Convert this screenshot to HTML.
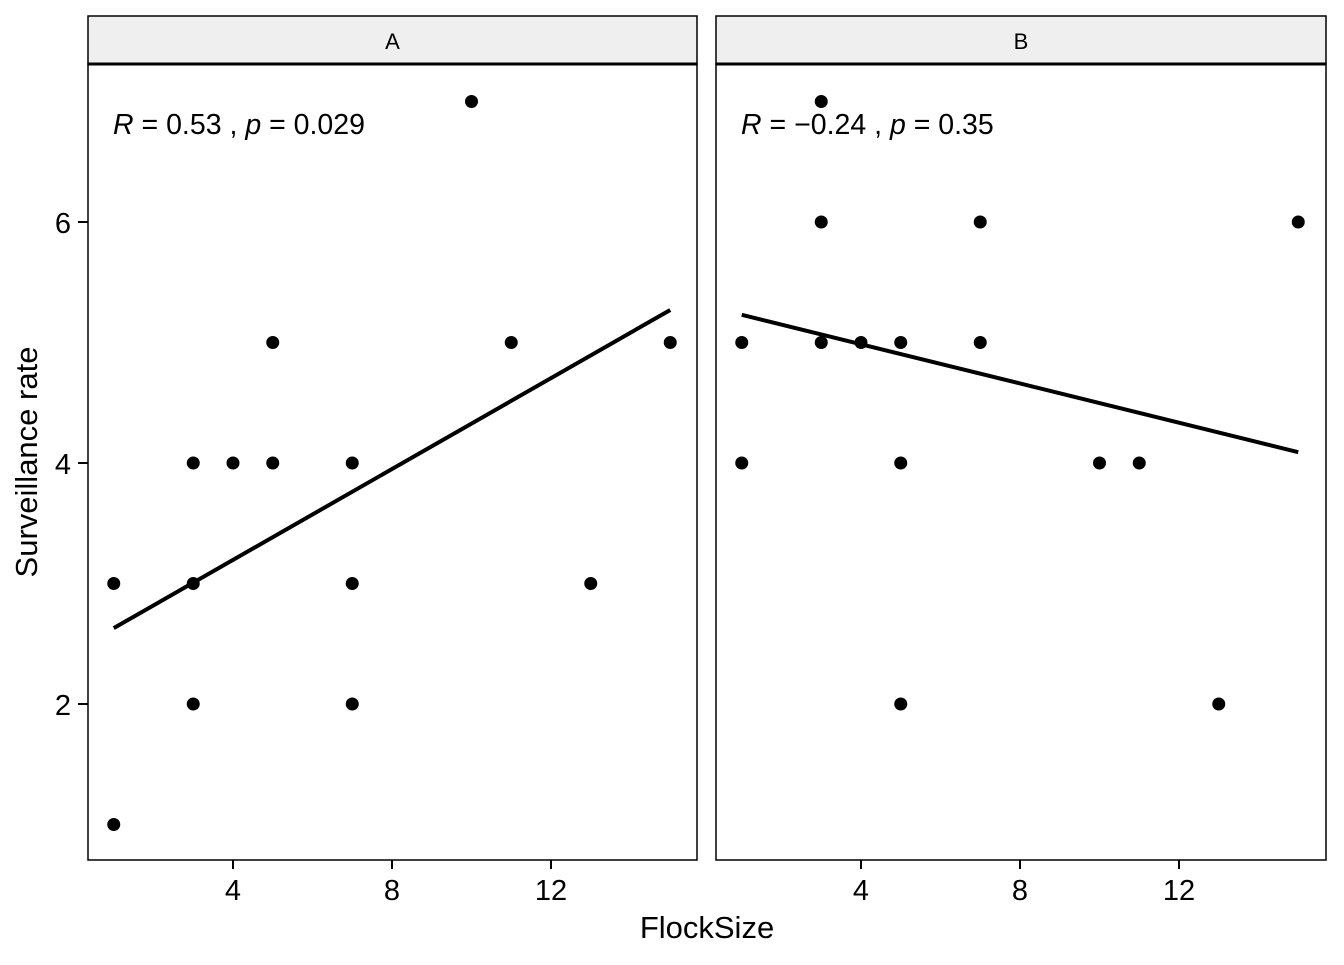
<!DOCTYPE html>
<html><head><meta charset="utf-8"><style>
body{margin:0;background:#fff;}
svg text{font-family:"Liberation Sans",Arial,sans-serif;}
</style></head><body>
<svg id="chart" width="1344" height="960" viewBox="0 0 1344 960" xmlns="http://www.w3.org/2000/svg">
<text x="707" y="938" font-size="31" text-anchor="middle">FlockSize</text>
<text transform="translate(37,462) rotate(-90)" font-size="31" text-anchor="middle">Surveillance rate</text>
</svg>
<script>
const xTicks=[4,8,12];
const yTicks=[2,4,6];
const panelNames=["A","B"];
const ax=[1,1,3,3,3,4,5,5,7,7,7,10,11,13,15];
const ay=[3,1,4,3,2,4,5,4,4,3,2,7,5,3,5];
const bx=[1,1,3,3,3,4,5,5,5,7,7,10,11,13,15];
const by=[5,4,7,6,5,5,5,4,2,6,5,4,4,2,6];
const fitA=[2.63,5.27];
const fitB=[5.23,4.09];
const fitX=[1,15];
const labels=[["0.53","0.029"],["\u22120.24","0.35"]];
const svg=document.getElementById('chart');
const NS="http://www.w3.org/2000/svg";
function mk(t,a,p){const e=document.createElementNS(NS,t);for(const k in a)e.setAttribute(k,a[k]);(p||svg).appendChild(e);return e;}
const panels=[{x0:88,x1:697,xs:[ax,ay],fit:fitA},{x0:716,x1:1326,xs:[bx,by],fit:fitB}];
const yS=v=>463-(v-4)*120.5;
panels.forEach((P,i)=>{
  const off=P.x0+(233-88)-4*39.75;
  const xS=v=>off+v*39.75;
  const g=mk('g',{});
  
  
  const strip=mk('rect',{x:P.x0,y:16,width:P.x1-P.x0,height:48,fill:'#efefef',stroke:'#000','stroke-width':1.5},g);
  
  
  mk('line',{x1:P.x0,x2:P.x1,y1:64,y2:64,stroke:'#000','stroke-width':3},g);
  const st=mk('text',{x:(P.x0+P.x1)/2,y:49,'font-size':22,'text-anchor':'middle'},g);st.textContent=panelNames[i];
  
  
  const fr=mk('rect',{x:P.x0,y:64,width:P.x1-P.x0,height:796,fill:'none',stroke:'#000','stroke-width':1.5},g);
  
  
  xTicks.forEach(t=>{mk('line',{x1:xS(t),x2:xS(t),y1:860,y2:869,stroke:'#000','stroke-width':2},g);
    const tx=mk('text',{x:xS(t),y:900,'font-size':29,'text-anchor':'middle'},g);tx.textContent=t;
    
    });
  if(i==0)yTicks.forEach(t=>{mk('line',{x1:78,x2:88,y1:yS(t),y2:yS(t),stroke:'#000','stroke-width':2},g);
    const tx=mk('text',{x:71,y:yS(t)+11,'font-size':29,'text-anchor':'end'},g);tx.textContent=t;
    
    });
  const fl=mk('line',{x1:xS(fitX[0]),y1:yS(P.fit[0]),x2:xS(fitX[1]),y2:yS(P.fit[1]),stroke:'#000','stroke-width':4},g);
  
  
  P.xs[0].forEach((v,j)=>{const c=mk('circle',{cx:xS(v),cy:yS(P.xs[1][j]),r:6.5,fill:'#000'},g);
    
    });
  const lt=mk('text',{x:P.x0+25,y:134,'font-size':28.5},g);
  
  
  lt.innerHTML='<tspan font-style="italic">R</tspan> = '+labels[i][0]+' , <tspan font-style="italic">p</tspan> = '+labels[i][1];
});
</script>
</body></html>
